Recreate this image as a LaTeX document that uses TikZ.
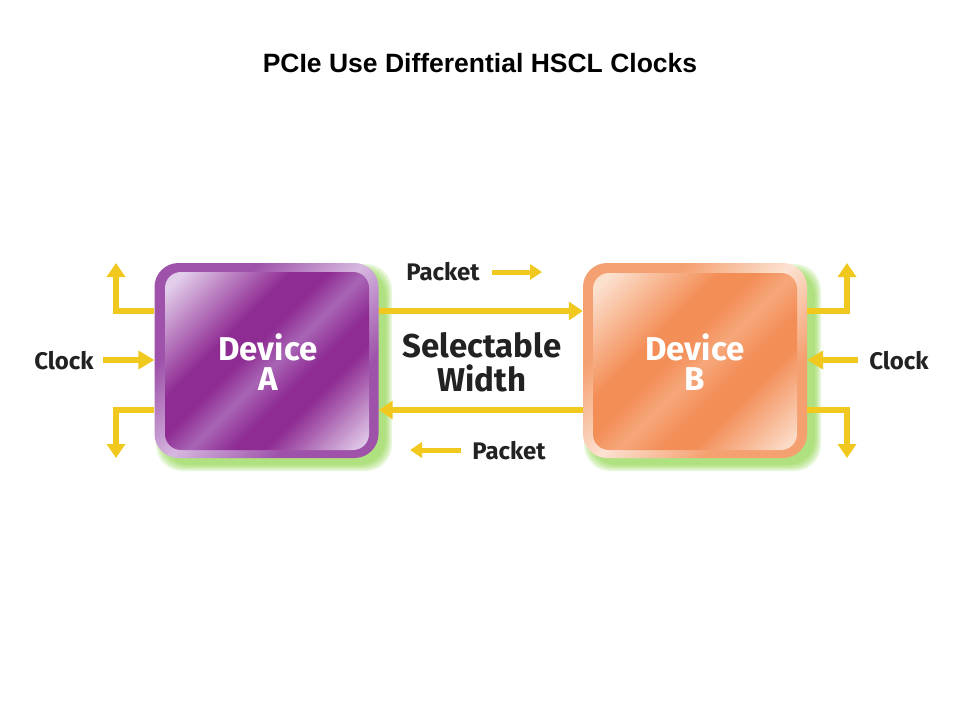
\documentclass[tikz,border=0pt]{standalone}
\usepackage{fontspec}
\setmainfont{Liberation Sans}
\newfontfamily\lblfont{Fira Sans}
\usetikzlibrary{arrows.meta,calc}
\definecolor{yel}{HTML}{F0C81E}
\definecolor{pM}{HTML}{8E2C93}
\definecolor{pL}{HTML}{E2CDEA}
\definecolor{pS}{HTML}{A865B5}
\definecolor{pO1}{HTML}{9E52AA}
\definecolor{pO2}{HTML}{D6B8E0}
\definecolor{oM}{HTML}{F38E57}
\definecolor{oL}{HTML}{FCE0CE}
\definecolor{oS}{HTML}{F6A77B}
\definecolor{oO1}{HTML}{F5A070}
\definecolor{oO2}{HTML}{FCE2D2}
\definecolor{glow}{HTML}{7CCF2A}
\definecolor{txt}{HTML}{222222}
\pgfdeclarehorizontalshading{purpin}{100bp}{color(0bp)=(pL); color(18bp)=(pL); color(38bp)=(pM); color(45bp)=(pM); color(52bp)=(pS); color(60bp)=(pM); color(66bp)=(pM); color(84bp)=(pL); color(100bp)=(pL)}
\pgfdeclarehorizontalshading{purpout}{100bp}{color(0bp)=(pO1); color(32bp)=(pO1); color(50bp)=(pO2); color(68bp)=(pO1); color(100bp)=(pO1)}
\pgfdeclarehorizontalshading{orin}{100bp}{color(0bp)=(oL); color(18bp)=(oL); color(38bp)=(oM); color(45bp)=(oM); color(52bp)=(oS); color(60bp)=(oM); color(66bp)=(oM); color(84bp)=(oL); color(100bp)=(oL)}
\pgfdeclarehorizontalshading{orout}{100bp}{color(0bp)=(oO1); color(32bp)=(oO1); color(50bp)=(oO2); color(68bp)=(oO1); color(100bp)=(oO1)}
\tikzset{
  devbox/.style={rectangle, rounded corners=24pt, inner sep=0pt, shading angle=-45, minimum width=224pt, minimum height=195pt},
  devtext/.style={align=center, text=white, font=\lblfont\bfseries\fontsize{33}{30}\selectfont},
  lbl/.style={text=txt, font=\lblfont\bfseries\fontsize{24}{26}\selectfont, inner sep=0pt},
  yarr/.style={draw=yel, line width=6.5pt, -{Triangle[length=14pt,width=18pt]}},
  yclk/.style={draw=yel, line width=6.5pt, -{Triangle[length=16pt,width=18pt]}},
  ypk/.style={draw=yel, line width=5pt, -{Triangle[length=12pt,width=15pt]}},
  glowfill/.style={fill=glow, opacity=0.16, rounded corners=26pt},
}
\begin{document}
\begin{tikzpicture}[x=1pt,y=-1pt]
\useasboundingbox (0,0) rectangle (960,720);
\fill[white] (0,0) rectangle (960,720);
\node[font=\bfseries\fontsize{26.5}{30}\selectfont] (title) at (480,63) {PCIe Use Differential HSCL Clocks};
% glows
\foreach \r in {0,1.5,3,4.5,6}{
  \fill[glowfill] ({162-\r},{270-\r}) rectangle ({386+\r},{465+\r});
  \fill[glowfill] ({590-\r},{270-\r}) rectangle ({815+\r},{465+\r});
}
% devices
\node[devbox, shade, shading=purpout] (A) at (266.5,360.5) {};
\shade[shading=purpin, shading angle=-45, rounded corners=16pt] (165,272) rectangle (369,450);
\node[devbox, shade, shading=orout] (B) at (695,360.5) {};
\shade[shading=orin, shading angle=-45, rounded corners=16pt] (593,273) rectangle (797,450);
\node[devtext] (Atxt) at (268,362) {Device\\A};
\node[devtext] (Btxt) at (695,362) {Device\\B};
% coordinates
\coordinate (yT) at (0,311);
\coordinate (yB) at (0,410);
\coordinate (aUp) at (116,263);
\coordinate (aDn) at (116,458);
\coordinate (aClk) at (103,360);
\coordinate (bUp) at (847,263);
\coordinate (bDn) at (847,458);
\coordinate (bClk) at (858,360);
% left side of A
\draw[yarr] (A.west |- yT) -| (aUp);
\draw[yarr] (A.west |- yB) -| (aDn);
\draw[yclk] (aClk) -- (A.west |- aClk);
\node[lbl] (clkAtxt) at (64,361) {Clock};
% right side of B
\draw[yarr] (B.east |- yT) -| (bUp);
\draw[yarr] (B.east |- yB) -| (bDn);
\draw[yclk] (bClk) -- (B.east |- bClk);
\node[lbl] (clkBtxt) at (899,361) {Clock};
% middle links
\draw[yarr] (A.east |- yT) -- (B.west |- yT);
\draw[yarr] (B.west |- yB) -- (A.east |- yB);
\node[align=center, text=txt, font=\lblfont\bfseries\fontsize{33}{34}\selectfont] (sel) at (482,362) {Selectable\\Width};
% packet labels
\node[lbl] (pk1) at (443,272) {Packet};
\coordinate (pk1s) at (492,272);
\coordinate (pk1e) at (542,272);
\draw[ypk] (pk1s) -- (pk1e);
\node[lbl] (pk2) at (509,451) {Packet};
\coordinate (pk2s) at (461,450);
\coordinate (pk2e) at (410,450);
\draw[ypk] (pk2s) -- (pk2e);
\end{tikzpicture}
\end{document}
